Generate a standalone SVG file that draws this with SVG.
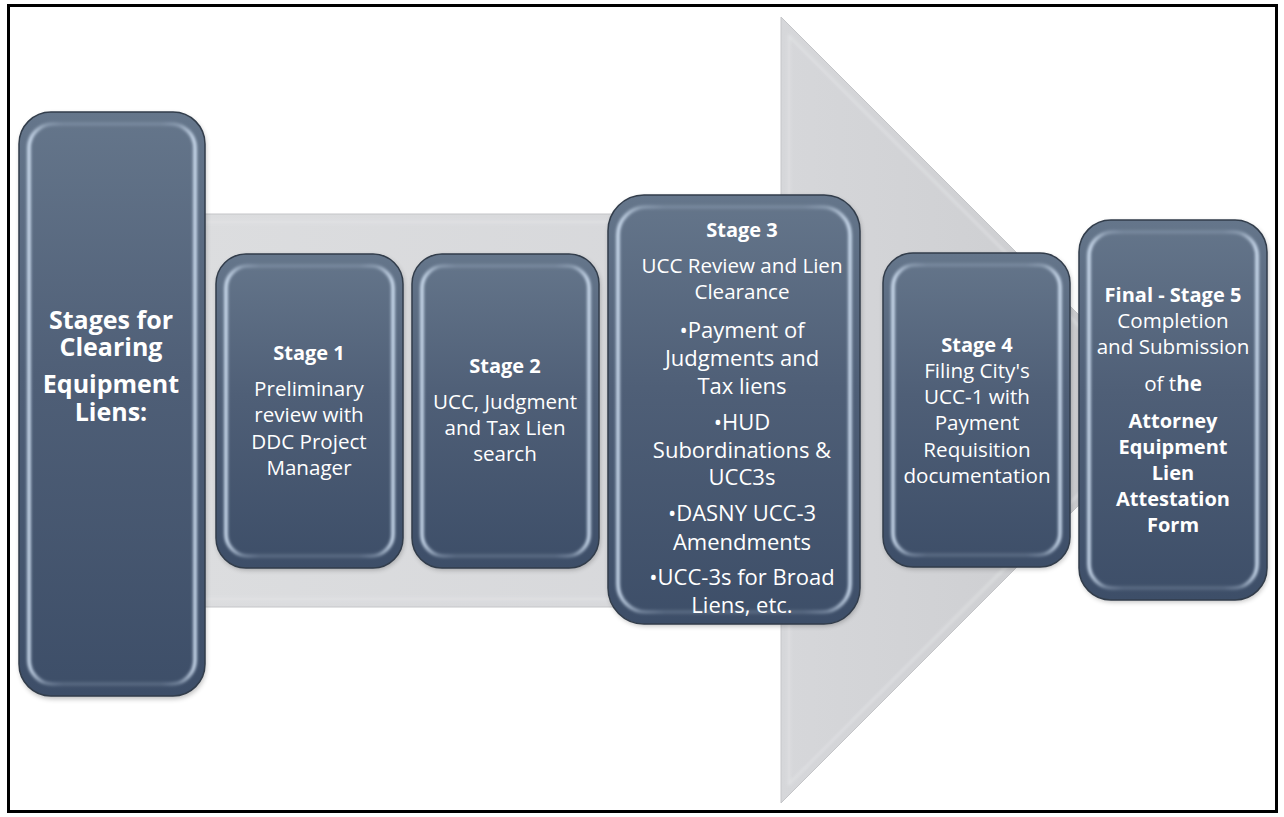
<svg xmlns="http://www.w3.org/2000/svg" width="1284" height="817" viewBox="0 0 1284 817">
<defs>
<linearGradient id="gBox" x1="0" y1="0" x2="0" y2="1">
<stop offset="0" stop-color="#65768b"/>
<stop offset="0.45" stop-color="#4f5f77"/>
<stop offset="1" stop-color="#3d4e68"/>
</linearGradient>
<linearGradient id="gRim" x1="0" y1="0" x2="1" y2="0">
<stop offset="0" stop-color="#d8e8fa" stop-opacity="0.95"/>
<stop offset="0.1" stop-color="#d8e8fa" stop-opacity="0.35"/>
<stop offset="0.2" stop-color="#d8e8fa" stop-opacity="0.18"/>
<stop offset="0.8" stop-color="#d8e8fa" stop-opacity="0.18"/>
<stop offset="0.9" stop-color="#d8e8fa" stop-opacity="0.35"/>
<stop offset="1" stop-color="#d8e8fa" stop-opacity="0.95"/>
</linearGradient>
<linearGradient id="gArrow" x1="0" y1="0" x2="1" y2="0">
<stop offset="0" stop-color="#dcdddf"/>
<stop offset="0.6" stop-color="#d6d7da"/>
<stop offset="1" stop-color="#c9cacd"/>
</linearGradient>
<filter id="soft" x="-10%" y="-10%" width="120%" height="120%">
<feGaussianBlur stdDeviation="1.4"/>
</filter>
<filter id="shadow" x="-10%" y="-10%" width="120%" height="120%">
<feGaussianBlur stdDeviation="2.5"/>
</filter>
</defs>
<style>
.box{fill:url(#gBox);stroke:#323d4b;stroke-width:1.5}
.rim{fill:none;stroke:url(#gRim);stroke-width:3.5;filter:url(#soft)}
.sh{fill:#000;opacity:0.25;filter:url(#shadow)}
text{font-family:"Open Sans","Liberation Sans",sans-serif;fill:#ffffff;text-anchor:middle}
.h{font-weight:bold;font-size:20px}
.t{font-size:20.6px}
.b{font-size:22px}
.title{font-weight:bold;font-size:25px}
</style>
<rect x="0" y="0" width="1284" height="817" fill="#ffffff"/>
<rect x="8.5" y="5.5" width="1268" height="806" fill="none" stroke="#000000" stroke-width="3"/>

<g id="arrow">
<polygon points="190,214 781,214 781,17 1174,410 781,803 781,607 190,607" fill="url(#gArrow)" stroke="#c4c5c8" stroke-width="1"/>
<polygon points="198,222 789,222 789,36 1163,410 789,784 789,599 198,599" fill="none" stroke="#e6e7e9" stroke-width="2" opacity="0.7" filter="url(#soft)"/>
</g>

<g id="connectors"></g>

<g id="node-title">
<rect class="sh" x="20" y="114" width="186" height="585" rx="32"/>
<rect class="box" x="19" y="112" width="186" height="584" rx="32"/>
<rect class="rim" x="29" y="124" width="166" height="560" rx="24"/>
<text class="title" x="111" y="329">Stages for</text>
<text class="title" x="111" y="356">Clearing</text>
<text class="title" x="111" y="393">Equipment</text>
<text class="title" x="111" y="421">Liens:</text>
</g>

<g id="node-stage1">
<rect class="sh" x="217" y="256" width="187" height="314" rx="30"/>
<rect class="box" x="216" y="254" width="187" height="314" rx="30"/>
<rect class="rim" x="226" y="266" width="167" height="290" rx="22"/>
<text class="h" x="309" y="360">Stage 1</text>
<text class="t" x="309" y="396">Preliminary</text>
<text class="t" x="309" y="422">review with</text>
<text class="t" x="309" y="449">DDC Project</text>
<text class="t" x="309" y="475">Manager</text>
</g>

<g id="node-stage2">
<rect class="sh" x="413" y="256" width="187" height="314" rx="30"/>
<rect class="box" x="412" y="254" width="187" height="314" rx="30"/>
<rect class="rim" x="422" y="266" width="167" height="290" rx="22"/>
<text class="h" x="505" y="373">Stage 2</text>
<text class="t" x="505" y="409">UCC, Judgment</text>
<text class="t" x="505" y="435">and Tax Lien</text>
<text class="t" x="505" y="461">search</text>
</g>

<g id="node-stage3">
<rect class="sh" x="609" y="197" width="252" height="429" rx="36"/>
<rect class="box" x="608" y="195" width="252" height="429" rx="36"/>
<rect class="rim" x="618" y="207" width="232" height="405" rx="28"/>
<text class="h" x="742" y="237">Stage 3</text>
<text class="t" x="742" y="273">UCC Review and Lien</text>
<text class="t" x="742" y="299">Clearance</text>
<text class="b" x="742" y="338">•Payment of</text>
<text class="b" x="742" y="366">Judgments and</text>
<text class="b" x="742" y="394">Tax liens</text>
<text class="b" x="742" y="430">•HUD</text>
<text class="b" x="742" y="458">Subordinations &amp;</text>
<text class="b" x="742" y="485">UCC3s</text>
<text class="b" x="742" y="521">•DASNY UCC-3</text>
<text class="b" x="742" y="550">Amendments</text>
<text class="b" x="742" y="585">•UCC-3s for Broad</text>
<text class="b" x="742" y="613">Liens, etc.</text>
</g>

<g id="node-stage4">
<rect class="sh" x="884" y="255" width="187" height="314" rx="30"/>
<rect class="box" x="883" y="253" width="187" height="314" rx="30"/>
<rect class="rim" x="893" y="265" width="167" height="290" rx="22"/>
<text class="h" x="977" y="352">Stage 4</text>
<text class="t" x="977" y="378">Filing City's</text>
<text class="t" x="977" y="404">UCC-1 with</text>
<text class="t" x="977" y="430">Payment</text>
<text class="t" x="977" y="457">Requisition</text>
<text class="t" x="977" y="483">documentation</text>
</g>

<g id="node-stage5">
<rect class="sh" x="1080" y="222" width="188" height="380" rx="32"/>
<rect class="box" x="1079" y="220" width="188" height="380" rx="32"/>
<rect class="rim" x="1089" y="232" width="168" height="356" rx="24"/>
<text class="h" x="1173" y="302">Final - Stage 5</text>
<text class="t" x="1173" y="328">Completion</text>
<text class="t" x="1173" y="354">and Submission</text>
<text class="t" x="1173" y="391">of t<tspan font-weight="bold">he</tspan></text>
<text class="h" x="1173" y="428">Attorney</text>
<text class="h" x="1173" y="454">Equipment</text>
<text class="h" x="1173" y="480">Lien</text>
<text class="h" x="1173" y="506">Attestation</text>
<text class="h" x="1173" y="532">Form</text>
</g>
</svg>
